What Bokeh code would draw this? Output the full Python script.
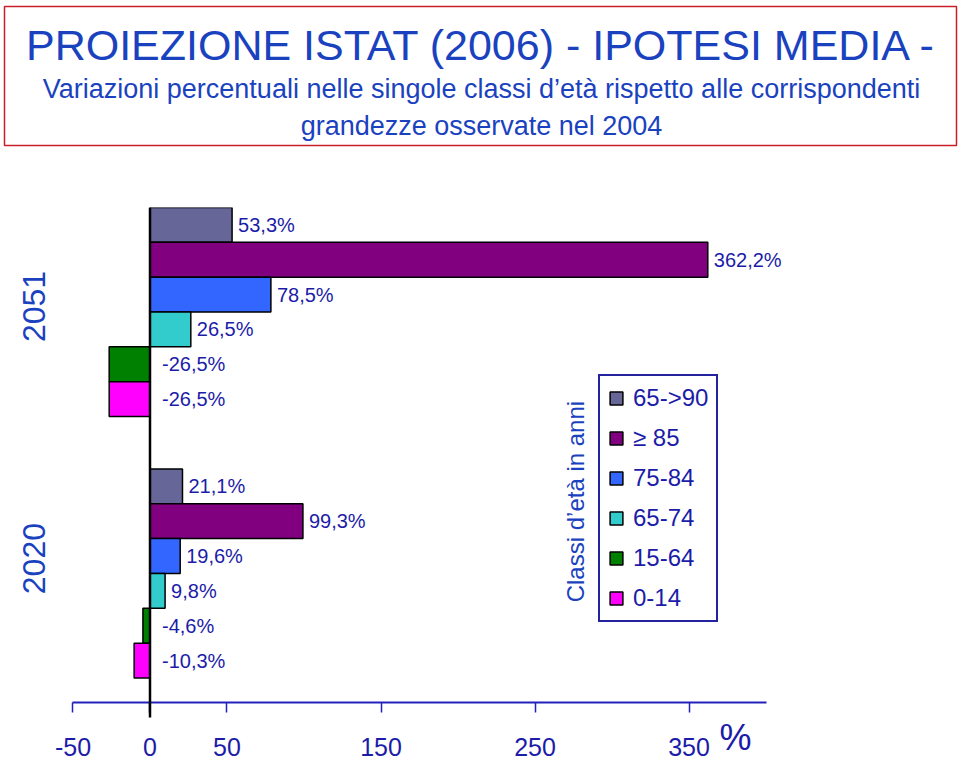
import math
from bokeh.plotting import figure
from bokeh.models import (Range1d, LinearAxis, FixedTicker, BoxAnnotation, Label, Legend,
                          ColumnDataSource)
from bokeh.layouts import column
from bokeh.embed import file_html
from bokeh.resources import INLINE
from bokeh.core.properties import value

# ---------------- data ----------------
years = ["2020", "2051"]                      # bottom group, top group
classes = ["65->90", "≥ 85", "75-84", "65-74", "15-64", "0-14"]
colors = ["#666699", "#800080", "#3366FF", "#33CCCC", "#008000", "#FF00FF"]
vals_2020 = [21.1, 99.3, 19.6, 9.8, -4.6, -10.3]
vals_2051 = [53.3, 362.2, 78.5, 26.5, -26.5, -26.5]
x_ticks = [-50, 0, 50, 150, 250, 350]

title_line1 = "PROIEZIONE ISTAT (2006) - IPOTESI MEDIA -"
title_line2 = "Variazioni percentuali nelle singole classi d’età rispetto alle corrispondenti"
title_line3 = "grandezze osservate nel 2004"
legend_title = "Classi d’età in anni"

FONT = "Liberation Sans"
NAVY = "#1c1ca8"
BLUE = "#1a42bf"

W = 960

# ---------------- title box ----------------
tf = figure(width=W, height=150, output_backend="svg", toolbar_location=None,
            x_range=Range1d(4, 956), y_range=Range1d(145, 6),
            x_axis_type=None, y_axis_type=None,
            min_border_left=4, min_border_right=4, min_border_top=6, min_border_bottom=5)
tf.grid.visible = False
tf.outline_line_color = "#c8202a"
tf.outline_line_width = 1.5
tf.background_fill_color = "white"
for txt, yy, fs in [(title_line1, 44, "43px"), (title_line2, 88, "27px"), (title_line3, 125, "27px")]:
    tf.add_layout(Label(x=481, y=yy, text=txt, text_align="center", text_baseline="middle",
                        text_font=FONT, text_font_size=fs, text_color=BLUE))

# ---------------- main chart ----------------
group_pos = {"2020": 0.0, "2051": 1.0}
n = len(classes)
span_frac = 0.8
bh = span_frac / n

p = figure(width=W, height=612, output_backend="svg", toolbar_location=None,
           x_range=Range1d(-94.48, 523.7), y_range=Range1d(-0.7228, 1.3996),
           x_axis_type=None, y_axis_type=None,
           min_border_left=4, min_border_right=4, min_border_top=57, min_border_bottom=0)
p.grid.visible = False
p.outline_line_color = None

data_by_year = {"2020": vals_2020, "2051": vals_2051}
items = []
for i, (cls, col) in enumerate(zip(classes, colors)):
    ys, vs = [], []
    for yr in years:
        ys.append(group_pos[yr] + span_frac / 2 - (i + 0.5) * bh)
        vs.append(data_by_year[yr][i])
    src = ColumnDataSource(dict(y=ys, right=vs, left=[0] * len(vs)))
    r = p.hbar(y="y", left="left", right="right", height=bh, source=src,
               fill_color=col, line_color="black", line_width=1.5)
    items.append((cls, [r]))

    # value labels
    lx = [max(v, 0) for v in vs]
    lo = [6 if v >= 0 else 12 for v in vs]
    lt = [f"{v:.1f}".replace(".", ",") + "%" for v in vs]
    lsrc = ColumnDataSource(dict(x=lx, y=ys, t=lt, o=lo))
    p.text(x="x", y="y", text="t", x_offset="o", source=lsrc,
           text_font=value(FONT), text_font_size="20px", text_color=NAVY,
           text_align="left", text_baseline="middle")

# zero line (from top of the bars to just below the x axis)
p.add_layout(BoxAnnotation(left=0, right=0, top=1.4, bottom=-0.551,
                           line_color="black", line_alpha=1, line_width=2.5, fill_alpha=0))

# x axis
xa = LinearAxis(fixed_location=-0.4933, ticker=FixedTicker(ticks=x_ticks), bounds=(-50, 400),
                major_label_overrides={t: str(t) for t in x_ticks})
xa.axis_line_color = "#2222bb"
xa.axis_line_width = 2
xa.major_tick_line_color = "#2222bb"
xa.major_tick_line_width = 1.5
xa.major_tick_in = 0
xa.major_tick_out = 10
xa.minor_tick_line_color = None
xa.major_label_text_font = FONT
xa.major_label_text_font_size = "25px"
xa.major_label_text_color = NAVY
xa.major_label_standoff = 26
p.add_layout(xa, "below")

# y axis (years)
tick_shift = {"2020": 0.193, "2051": 0.157}
yt = [group_pos[y] + tick_shift[y] for y in years]
ya = LinearAxis(fixed_location=-62.0, ticker=FixedTicker(ticks=yt),
                major_label_overrides={t: y for t, y in zip(yt, years)})
ya.axis_line_color = None
ya.major_tick_line_color = None
ya.minor_tick_line_color = None
ya.major_label_orientation = math.pi / 2
ya.major_label_text_font = FONT
ya.major_label_text_font_size = "32px"
ya.major_label_text_color = BLUE
ya.major_label_standoff = 15
p.add_layout(ya, "left")

# legend
legend = Legend(items=items, location=(594, 140), orientation="vertical")
legend.glyph_width = 16
legend.glyph_height = 16
legend.label_standoff = 9
legend.padding = 8
legend.spacing = 12
legend.margin = 0
legend.label_text_font = FONT
legend.label_text_font_size = "24px"
legend.label_text_color = NAVY
legend.border_line_color = "#2323a0"
legend.border_line_alpha = 1
legend.border_line_width = 2
legend.background_fill_color = "white"
legend.background_fill_alpha = 1
p.add_layout(legend, "center")

# legend title (vertical)
p.add_layout(Label(x=276.3, y=0.275, text=legend_title, angle=math.pi / 2,
                   text_align="center", text_baseline="middle",
                   text_font=FONT, text_font_size="24px", text_color=BLUE))

# percent sign
p.add_layout(Label(x=380.2, y=-0.627, text="%", text_align="center", text_baseline="middle",
                   text_font=FONT, text_font_size="36px", text_color=NAVY))

layout = column(tf, p, spacing=0)
open("out.html", "w").write(file_html(layout, INLINE))
